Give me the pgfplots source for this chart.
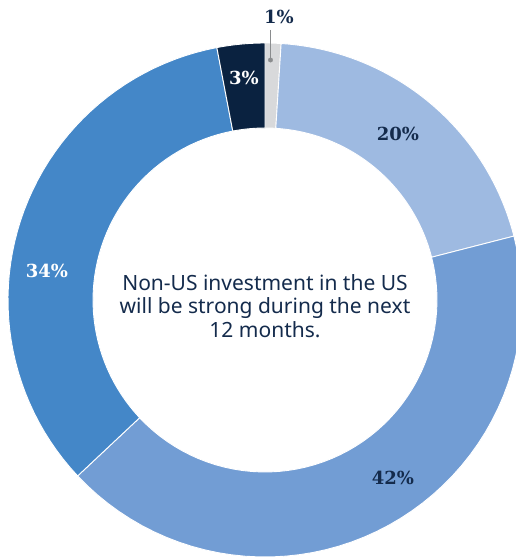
\documentclass[border=0pt]{standalone}
\usepackage{pgfplots}
\pgfplotsset{compat=1.18}
\usepackage{fontspec}
\setmainfont{Noto Sans}
\newfontfamily\seriffont{DejaVu Serif}
\definecolor{cgray}{HTML}{D8D9DB}
\definecolor{clb}{HTML}{9EBAE1}
\definecolor{cmb}{HTML}{729DD4}
\definecolor{cbb}{HTML}{4487C8}
\definecolor{cnv}{HTML}{0A2240}
\definecolor{ctext}{HTML}{142B4C}
\definecolor{clead}{HTML}{8A8C8E}
\begin{document}
\begin{tikzpicture}
\begin{axis}[width=516pt,height=558pt,scale only axis,
  xmin=0,xmax=516,ymin=0,ymax=558,hide axis,clip=true]
\addplot[draw=none] coordinates {(0,0) (516,558)};
\def\cum{0}
\pgfplotsforeachungrouped \v/\c in {1/cgray,20/clb,42/cmb,34/cbb,3/cnv}{%
  \pgfmathsetmacro\a{\cum*3.6}%
  \pgfmathsetmacro\b{(\cum+\v)*3.6}%
  \edef\doplot{\noexpand\addplot[fill=\c,draw=white,line width=0.9pt,
    variable=\noexpand\t,samples at={0,1,...,101}]
    ({265+(\noexpand\t<=50 ? 257 : 172)*sin(\noexpand\t<=50 ? \a+(\b-\a)*\noexpand\t/50 : \b-(\b-\a)*(\noexpand\t-51)/50)},
     {258+(\noexpand\t<=50 ? 257 : 172)*cos(\noexpand\t<=50 ? \a+(\b-\a)*\noexpand\t/50 : \b-(\b-\a)*(\noexpand\t-51)/50)}) -- cycle;}%
  \doplot
  \pgfmathsetmacro\cum{\cum+\v}%
}
\addplot[clead,line width=1pt] coordinates {(270.5,528) (270.5,498)};
\addplot[only marks,mark=*,mark size=2.2pt,clead] coordinates {(270.5,498)};
\node[font=\seriffont\bfseries\fontsize{18}{20}\selectfont,text=ctext] at (axis cs:279,541) {1\%};
\node[font=\seriffont\bfseries\fontsize{18}{20}\selectfont,text=ctext] at (axis cs:398,424) {20\%};
\node[font=\seriffont\bfseries\fontsize{18}{20}\selectfont,text=ctext] at (axis cs:393,80) {42\%};
\node[font=\seriffont\bfseries\fontsize{18}{20}\selectfont,text=white] at (axis cs:47,287) {34\%};
\node[font=\seriffont\bfseries\fontsize{18}{20}\selectfont,text=white] at (axis cs:244,480) {3\%};
\node[font=\fontsize{21}{23.5}\selectfont,text=ctext,align=center] at (axis cs:265,252)
  {Non-US investment in the US\\will be strong during the next\\12 months.};
\end{axis}
\end{tikzpicture}
\end{document}
